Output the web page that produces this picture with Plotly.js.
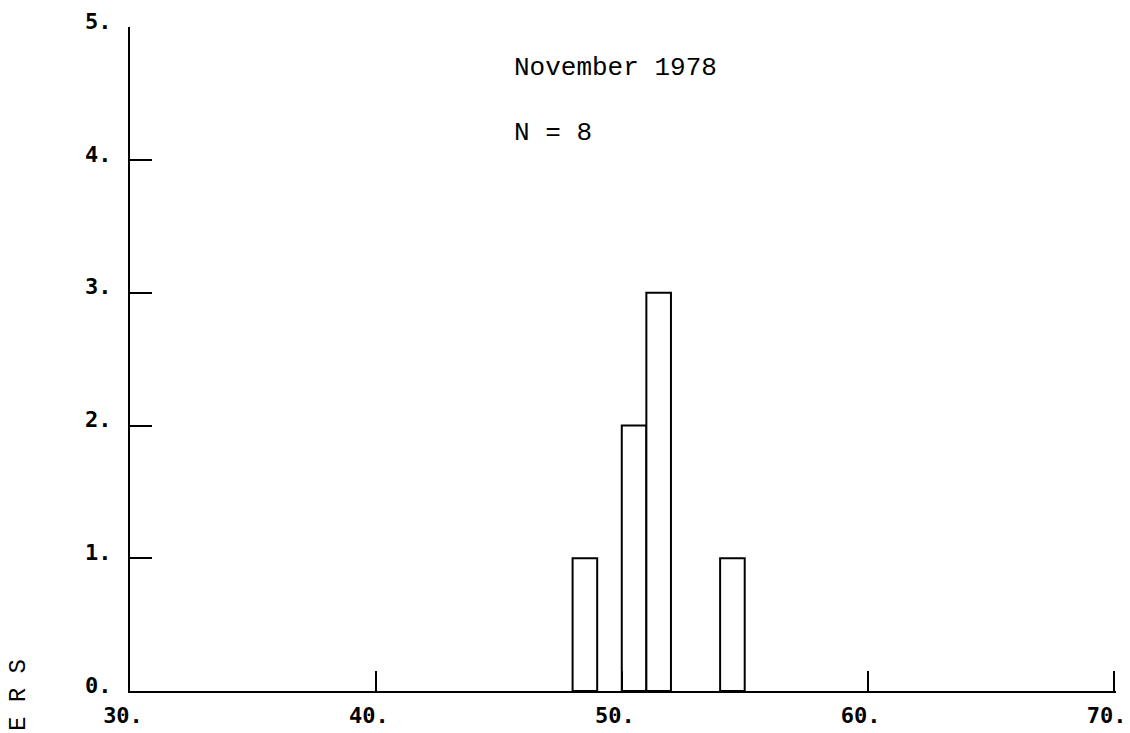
<!DOCTYPE html>
<html>
<head>
<meta charset="utf-8">
<script src="https://cdn.plot.ly/plotly-3.0.1.min.js"></script>
<style>html,body{margin:0;padding:0;background:#fff;}#chart{width:1130px;height:733px;}</style>
</head>
<body>
<div id="chart"></div>
<script>
// Histogram bins (left edge .. right edge) and counts
const binCenters = [48.5, 50.5, 51.5, 54.5];
const counts = [1, 2, 3, 1];
const binWidth = 1;

const xTickVals = [30, 40, 50, 60, 70];
const xTickText = ["30.", "40.", "50.", "60.", "70."];
const yTickVals = [0, 1, 2, 3, 4, 5];
const yTickText = ["0.", "1.", "2.", "3.", "4.", "5."];

const titleLine1 = "November 1978";
const titleLine2 = "N = 8";
const yTitleFragment = "E R S";

const tickFont = {family: "DejaVu Sans Mono", size: 22, color: "#000", weight: "bold"};

const data = [{
  type: "bar",
  x: binCenters,
  y: counts,
  width: binWidth,
  marker: {color: "#fff", line: {color: "#000", width: 2}},
  hoverinfo: "skip"
}];

const layout = {
  width: 1130, height: 733,
  margin: {l: 130, r: 14, t: 27, b: 42},
  paper_bgcolor: "#fff", plot_bgcolor: "#fff",
  showlegend: false,
  xaxis: {
    range: [30, 70.1], tickvals: xTickVals, ticktext: xTickText,
    showgrid: false, zeroline: false, showline: true, linecolor: "#000", linewidth: 2,
    ticks: "inside", ticklen: 20, tickwidth: 2, tickcolor: "#000",
    tickfont: tickFont, ticklabelstandoff: 4, ticklabeloverflow: "allow",
    ticklabelshift: -7
  },
  yaxis: {
    range: [0, 5.002], tickvals: yTickVals, ticktext: yTickText,
    showgrid: false, zeroline: false, showline: true, linecolor: "#000", linewidth: 2,
    ticks: "inside", ticklen: 22, tickwidth: 2, tickcolor: "#000",
    tickfont: tickFont, ticklabelstandoff: 12, ticklabeloverflow: "allow",
    ticklabelshift: -6
  },
  annotations: [
    {xref: "paper", yref: "paper", x: 0.3875, y: 0.938,
     xanchor: "left", yanchor: "middle", showarrow: false, text: titleLine1,
     font: {family: "Liberation Mono", size: 26, color: "#000"}},
    {xref: "paper", yref: "paper", x: 0.3875, y: 0.840,
     xanchor: "left", yanchor: "middle", showarrow: false, text: titleLine2,
     font: {family: "Liberation Mono", size: 26, color: "#000"}},
    {xref: "paper", yref: "paper", x: -0.1125, y: -0.006,
     xanchor: "center", yanchor: "middle", showarrow: false, textangle: -90,
     text: yTitleFragment,
     font: {family: "Liberation Mono", size: 24, color: "#000"}}
  ]
};

Plotly.newPlot("chart", data, layout, {displayModeBar: false, staticPlot: true});
</script>
</body>
</html>
